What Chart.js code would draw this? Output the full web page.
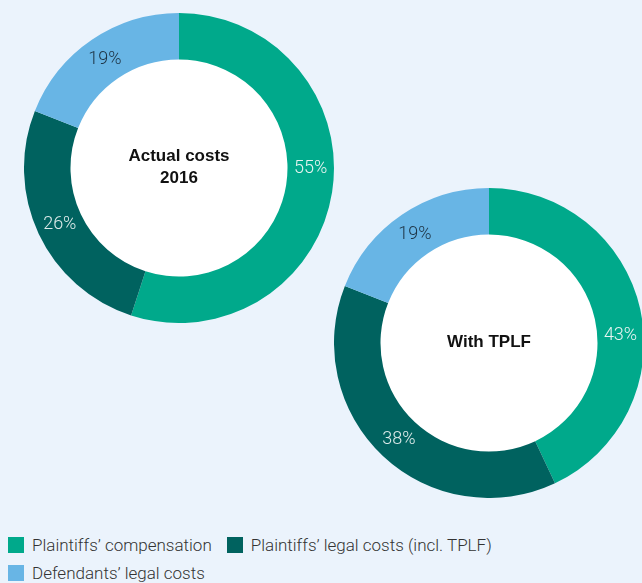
<!DOCTYPE html>
<html>
<head>
<meta charset="utf-8">
<script src="https://cdn.jsdelivr.net/npm/chart.js@4/dist/chart.umd.min.js"></script>
<style>
  html, body { margin: 0; padding: 0; background: #EBF3FC; }
  #wrap { position: relative; width: 642px; height: 583px; overflow: hidden; background: #EBF3FC; }
  .pie { position: absolute; width: 310px; height: 310px; }
  #c1 { left: 24px; top: 13px; }
  #c2 { left: 334px; top: 188px; }
  #legend { position: absolute; left: 8px; top: 533px; width: 630px; font-family: Roboto, "Liberation Sans", sans-serif; font-weight: 300; font-size: 17px; color: #333; }
  .item { display: inline-flex; align-items: center; height: 24px; margin-right: 15px; margin-bottom: 4px; white-space: nowrap; }
  .sw { width: 16px; height: 16px; margin-right: 8px; display: inline-block; }
</style>
</head>
<body>
<div id="wrap">
  <div class="pie" id="c1"><canvas id="chart1"></canvas></div>
  <div class="pie" id="c2"><canvas id="chart2"></canvas></div>
  <div id="legend"></div>
</div>
<script>
const categories = ['Plaintiffs’ compensation', 'Plaintiffs’ legal costs (incl. TPLF)', 'Defendants’ legal costs'];
const actualCosts2016 = [55, 26, 19];
const withTPLF = [43, 38, 19];
const centerTitle1 = ['Actual costs', '2016'];
const centerTitle2 = ['With TPLF'];

const colors = ['#00A98B', '#00625F', '#68B5E5'];
const labelColors = ['#E6F4F1', '#DDEBEA', '#1E3445'];

const ringLabels = {
  id: 'ringLabels',
  beforeDatasetsDraw(chart) {
    const ctx = chart.ctx;
    const arc = chart.getDatasetMeta(0).data[0];
    ctx.save();
    ctx.fillStyle = '#FFFFFF';
    ctx.beginPath();
    ctx.arc(arc.x, arc.y, arc.innerRadius + 1, 0, Math.PI * 2);
    ctx.fill();
    ctx.restore();
  },
  afterDatasetsDraw(chart, args, opts) {
    const ctx = chart.ctx;
    const meta = chart.getDatasetMeta(0);
    const data = chart.data.datasets[0].data;
    ctx.save();
    ctx.font = '300 18px Roboto, "Liberation Sans", sans-serif';
    ctx.textAlign = 'center';
    ctx.textBaseline = 'middle';
    meta.data.forEach((arc, i) => {
      const p = arc.getProps(['x', 'y', 'startAngle', 'endAngle', 'innerRadius', 'outerRadius'], true);
      let a = (p.startAngle + p.endAngle) / 2;
      if (i === 0) a = opts.firstAngle;
      const r = (p.innerRadius + p.outerRadius) / 2;
      ctx.fillStyle = labelColors[i];
      ctx.fillText(data[i] + '%', p.x + Math.cos(a) * r, p.y + Math.sin(a) * r);
    });
    const arc0 = meta.data[0];
    const lines = opts.title;
    ctx.font = 'bold 17px "Liberation Sans", Arial, sans-serif';
    ctx.fillStyle = '#111';
    const lh = 22;
    const y0 = arc0.y - 1 - (lines.length - 1) * lh / 2;
    lines.forEach((t, k) => ctx.fillText(t, arc0.x, y0 + k * lh));
    ctx.restore();
  }
};

function makeChart(id, values, title, firstAngle) {
  return new Chart(document.getElementById(id), {
    type: 'doughnut',
    data: {
      labels: categories,
      datasets: [{ data: values, backgroundColor: colors, borderWidth: 0, hoverOffset: 0 }]
    },
    options: {
      responsive: true,
      maintainAspectRatio: false,
      animation: false,
      cutout: '70%',
      layout: { padding: 0 },
      plugins: {
        legend: { display: false },
        tooltip: { enabled: false },
        ringLabels: { title: title, firstAngle: firstAngle }
      }
    },
    plugins: [ringLabels]
  });
}

makeChart('chart1', actualCosts2016, centerTitle1, 0);
makeChart('chart2', withTPLF, centerTitle2, -0.06);

const legend = document.getElementById('legend');
categories.forEach((c, i) => {
  const it = document.createElement('span');
  it.className = 'item';
  const sw = document.createElement('span');
  sw.className = 'sw';
  sw.style.background = colors[i];
  it.appendChild(sw);
  it.appendChild(document.createTextNode(c));
  legend.appendChild(it);
  if (i === 1) legend.appendChild(document.createElement('br'));
});
</script>
</body>
</html>
